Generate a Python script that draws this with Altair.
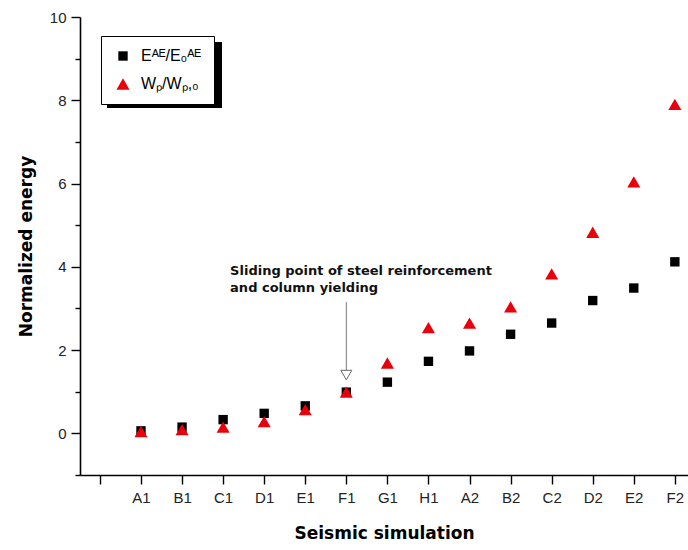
import altair as alt
import pandas as pd

# ---- data ----
cats = ["A1", "B1", "C1", "D1", "E1", "F1", "G1", "H1", "A2", "B2", "C2", "D2", "E2", "F2"]
positions = list(range(1, len(cats) + 1))
e_ratio = [0.06, 0.15, 0.33, 0.48, 0.66, 0.99, 1.23, 1.73, 1.98, 2.38, 2.65, 3.19, 3.49, 4.12]
w_ratio = [0.04, 0.09, 0.15, 0.28, 0.57, 0.99, 1.69, 2.54, 2.65, 3.04, 3.83, 4.83, 6.04, 7.90]
series_labels = ["Eᴬᴱ/E₀ᴬᴱ", "Wₚ/Wₚ,₀"]
series_colors = ["#000000", "#e8000b"]
series_shapes = ["square", "triangle-up"]
series_sizes = [88, 170]

note_lines = ["Sliding point of steel reinforcement", "and column yielding"]
note_x = [3.17, 3.17]
note_y = [3.80, 3.40]
arrow_x = [6]
arrow_top = [3.15]
arrow_bottom = [1.46]
arrow_head_y = [1.40]

x_domain = [-0.485, 14.32]
y_domain = [-1, 10]
x_tick_values = [i * 0.5 for i in range(-1, 29)]
y_tick_values = list(range(-1, 11))

# legend shadow box (pixels, relative to plot area)
shadow_box = {"x": 27, "x2": 142, "y": 25, "y2": 91}

df = pd.DataFrame({
    "pos": positions * 2,
    "cat": cats * 2,
    "value": e_ratio + w_ratio,
    "series": [series_labels[0]] * len(cats) + [series_labels[1]] * len(cats),
})
notes = pd.DataFrame({"x": note_x, "y": note_y, "text": note_lines})
arrow = pd.DataFrame({"x": arrow_x, "y": arrow_top, "y2": arrow_bottom, "yh": arrow_head_y})

cat_array = "[" + ",".join("'" + c + "'" for c in cats) + "]"

x_scale = alt.Scale(domain=x_domain, nice=False, zero=False)
y_scale = alt.Scale(domain=y_domain, nice=False, zero=False)

x_axis = alt.Axis(
    title="Seismic simulation",
    values=x_tick_values,
    labelExpr=f"(datum.value >= 1 && datum.value % 1 == 0) ? {cat_array}[datum.value - 1] : ''",
    tickSize={"condition": {"test": "datum.value % 1 === 0", "value": 9}, "value": 5},
    grid=False,
    labelFlush=False,
    labelOverlap=False,
    labelFont="Liberation Sans",
    labelFontSize=15,
    labelColor="#222222",
    labelPadding=6,
    titleFont="DejaVu Sans",
    titleFontSize=17,
    titleFontWeight="bold",
    titleColor="#000000",
    titlePadding=20,
    domainColor="#000000",
    domainWidth=1.6,
    tickColor="#000000",
    tickWidth=1.4,
)
y_axis = alt.Axis(
    title="Normalized energy",
    values=y_tick_values,
    labelExpr="(datum.value >= 0 && datum.value % 2 == 0) ? datum.label : ''",
    tickSize={"condition": {"test": "datum.value % 2 === 0", "value": 9}, "value": 5},
    grid=False,
    labelFlush=False,
    labelOverlap=False,
    labelFont="Liberation Sans",
    labelFontSize=15,
    labelColor="#222222",
    labelPadding=5,
    titleFont="DejaVu Sans",
    titleFontSize=17,
    titleFontWeight="bold",
    titleColor="#000000",
    titlePadding=14,
    domainColor="#000000",
    domainWidth=1.6,
    tickColor="#000000",
    tickWidth=1.4,
)

shadow = alt.Chart(pd.DataFrame({"k": [0]})).mark_rect(color="#000000").encode(
    x=alt.value(shadow_box["x"]), x2=alt.value(shadow_box["x2"]),
    y=alt.value(shadow_box["y"]), y2=alt.value(shadow_box["y2"]),
)

points = alt.Chart(df).mark_point(filled=True, opacity=1, strokeWidth=0).encode(
    x=alt.X("pos:Q", scale=x_scale, axis=x_axis),
    y=alt.Y("value:Q", scale=y_scale, axis=y_axis),
    color=alt.Color("series:N", scale=alt.Scale(domain=series_labels, range=series_colors),
                    legend=alt.Legend(title=None, orient="none", legendX=21, legendY=19,
                                      fillColor="#ffffff", strokeColor="#000000",
                                      padding=12, rowPadding=12, labelOffset=10,
                                      symbolOffset=2,
                                      labelFont="Liberation Sans", labelFontSize=16,
                                      labelColor="#000000")),
    shape=alt.Shape("series:N", scale=alt.Scale(domain=series_labels, range=series_shapes)),
    size=alt.Size("series:N", scale=alt.Scale(domain=series_labels, range=series_sizes)),
)

note_text = alt.Chart(notes).mark_text(
    align="left", baseline="alphabetic", font="DejaVu Sans", fontSize=13, fontWeight="bold",
    color="#111111",
).encode(x=alt.X("x:Q", scale=x_scale), y=alt.Y("y:Q", scale=y_scale), text="text:N")

arrow_line = alt.Chart(arrow).mark_rule(color="#777777", strokeWidth=1).encode(
    x=alt.X("x:Q", scale=x_scale), y=alt.Y("y:Q", scale=y_scale), y2="y2:Q",
)
arrow_head = alt.Chart(arrow).mark_point(
    shape="triangle-down", filled=True, fill="#ffffff", stroke="#666666", strokeWidth=1,
    size=121, opacity=1,
).encode(x=alt.X("x:Q", scale=x_scale), y=alt.Y("yh:Q", scale=y_scale))

chart = alt.layer(shadow, arrow_line, arrow_head, note_text, points).properties(
    width=608, height=458,
    padding={"left": 80, "top": 17, "right": 0, "bottom": 75},
    autosize=alt.AutoSizeParams(type="none"),
    background="#ffffff",
).configure_view(stroke=None).configure_legend(strokeWidth=1)

chart.save("out.html", embed_options={"renderer": "svg", "actions": False})
